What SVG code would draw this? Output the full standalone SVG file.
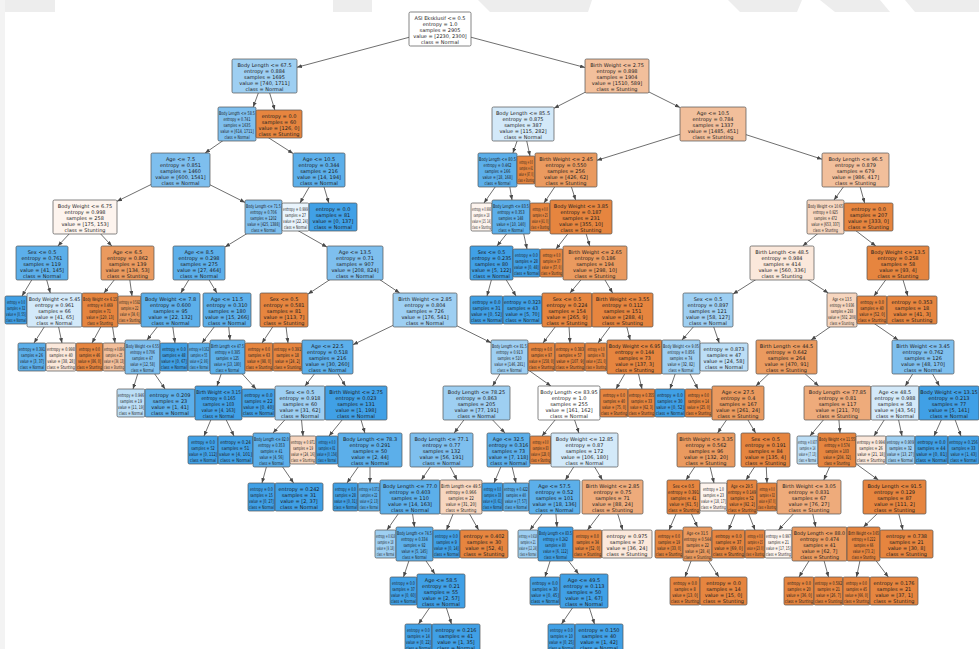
<svg xmlns="http://www.w3.org/2000/svg" width="979" height="649" viewBox="0 0 979 649">
<style>
text{font-family:"DejaVu Sans",sans-serif;font-size:5px;fill:#1e1e1e;text-anchor:middle}
.nd rect{stroke:#505050;stroke-width:0.7;rx:1.5px}
.w{fill:#ffffff}.b0{fill:#e9f4fc}.b1{fill:#d3e9f9}.b2{fill:#bcdef6}.b3{fill:#9ecff2}.b4{fill:#7ebfee}.b5{fill:#5cafea}.b6{fill:#40a0e6}
.o0{fill:#fdf4ee}.o1{fill:#fbe8db}.o2{fill:#f7d6bf}.o3{fill:#f2bf9b}.o4{fill:#eeab7b}.o5{fill:#ea9a5f}.o6{fill:#e6853f}
.e{stroke:#4a4a4a;stroke-width:0.8;fill:none;marker-end:url(#ah)}
.wm{fill:#ededed}
</style>
<defs>
<marker id="ah" markerWidth="5" markerHeight="4" refX="5" refY="2" orient="auto" markerUnits="userSpaceOnUse"><path d="M0,0L5,2L0,4z" fill="#4a4a4a"/></marker>
</defs>
<rect width="979" height="649" fill="#ffffff"/>
<g id="watermark">
<polygon points="0,0 5,0 5,649 0,649" fill="#f3f3f3"/>
<polygon class="wm" points="5,0 55,0 55,12 5,12"/>
<polygon class="wm" points="333,0 372,0 372,12 333,12"/>
<polygon class="wm" points="478,0 592,0 588,12 490,12"/>
<polygon class="wm" points="728,0 802,0 797,12 740,12"/>
<polygon class="wm" points="820,0 880,0 890,12 835,12"/>
<polygon class="wm" points="905,0 979,0 979,12 915,12"/>
</g>
<g id="connectors">
<path class="e" d="M440,29L297,67.3"/><path class="e" d="M440,29L585,67.5"/>
<path class="e" d="M264.5,76L253.2,107"/><path class="e" d="M264.5,76L274.8,110"/>
<path class="e" d="M617,76L554,108.2"/><path class="e" d="M617,76L680,107.5"/>
<path class="e" d="M247,124L205.1,153"/><path class="e" d="M247,124L293,153.4"/>
<path class="e" d="M523,124L512.9,153"/><path class="e" d="M523,124L530,156"/>
<path class="e" d="M713,124L597,160.3"/><path class="e" d="M713,124L822,159.2"/>
<path class="e" d="M180.5,170L117,201.3"/><path class="e" d="M180.5,170L245,202.4"/>
<path class="e" d="M319,170L300,203"/><path class="e" d="M319,170L328.8,203"/>
<path class="e" d="M507,170L484,203"/><path class="e" d="M507,170L512,200"/>
<path class="e" d="M566,170L544,203"/><path class="e" d="M566,170L575.6,200"/>
<path class="e" d="M855.5,170L834,200"/><path class="e" d="M855.5,170L864.6,203"/>
<path class="e" d="M85,217L57.9,246"/><path class="e" d="M85,217L111.8,246"/>
<path class="e" d="M274,217L225,247"/><path class="e" d="M274,217L327,247.1"/>
<path class="e" d="M520,217L497,246"/><path class="e" d="M520,217L527,249"/>
<path class="e" d="M581,217L556,249"/><path class="e" d="M581,217L589.8,246"/>
<path class="e" d="M838,217L802.7,246"/><path class="e" d="M838,217L875.8,246"/>
<path class="e" d="M42,263L22,296"/><path class="e" d="M42,263L50.3,293"/>
<path class="e" d="M127.5,263L104,293"/><path class="e" d="M127.5,263L132,296"/>
<path class="e" d="M199,263L180.8,293"/><path class="e" d="M199,263L216.9,293"/>
<path class="e" d="M355,263L308,294.1"/><path class="e" d="M355,263L399.7,293"/>
<path class="e" d="M496,263L487,296"/><path class="e" d="M496,263L516,296"/>
<path class="e" d="M595,263L570,293"/><path class="e" d="M595,263L612.6,293"/>
<path class="e" d="M782,263L733,294.1"/><path class="e" d="M782,263L828.3,293"/>
<path class="e" d="M898,263L874,296"/><path class="e" d="M898,263L907.8,296"/>
<path class="e" d="M55,310L34,343"/><path class="e" d="M55,310L62,343"/>
<path class="e" d="M110,310L92,343"/><path class="e" d="M110,310L115,343"/>
<path class="e" d="M170.5,310L147,340"/><path class="e" d="M170.5,310L175,343"/>
<path class="e" d="M227,310L202,343"/><path class="e" d="M227,310L230,340"/>
<path class="e" d="M284,310L262,343"/><path class="e" d="M284,310L288,343"/>
<path class="e" d="M425,310L353,344.7"/><path class="e" d="M425,310L491,342.7"/>
<path class="e" d="M568,310L543,343"/><path class="e" d="M568,310L570,343"/>
<path class="e" d="M622.5,310L598,343"/><path class="e" d="M622.5,310L630.2,340"/>
<path class="e" d="M708,310L682,340"/><path class="e" d="M708,310L719.2,343"/>
<path class="e" d="M854.5,310L811.1,340"/><path class="e" d="M854.5,310L898.2,340"/>
<path class="e" d="M143,357L133,389"/><path class="e" d="M143,357L165.1,389"/>
<path class="e" d="M227,357L217,386"/><path class="e" d="M227,357L256,389"/>
<path class="e" d="M327.5,357L305,386"/><path class="e" d="M327.5,357L345.5,386"/>
<path class="e" d="M510,357L492.6,386"/><path class="e" d="M510,357L550.9,386"/>
<path class="e" d="M634.5,357L616,389"/><path class="e" d="M634.5,357L642,389"/>
<path class="e" d="M681,357L670,389"/><path class="e" d="M681,357L698,389"/>
<path class="e" d="M786.5,357L755.9,386"/><path class="e" d="M786.5,357L818.7,386"/>
<path class="e" d="M923,357L905.3,386"/><path class="e" d="M923,357L939.4,386"/>
<path class="e" d="M218,403L204,436"/><path class="e" d="M218,403L234,436"/>
<path class="e" d="M300,403L273,433"/><path class="e" d="M300,403L303,436"/>
<path class="e" d="M356,403L329,436"/><path class="e" d="M356,403L364.9,433"/>
<path class="e" d="M476.5,403L454.2,433"/><path class="e" d="M476.5,403L505,433"/>
<path class="e" d="M569,403L542,436"/><path class="e" d="M569,403L578.9,433"/>
<path class="e" d="M738,403L717.6,433"/><path class="e" d="M738,403L755.6,433"/>
<path class="e" d="M837.5,403L810,436"/><path class="e" d="M837.5,403L840,433"/>
<path class="e" d="M895,403L874,436"/><path class="e" d="M895,403L902,436"/>
<path class="e" d="M949,403L934,436"/><path class="e" d="M949,403L961,436"/>
<path class="e" d="M271,450L262,483"/><path class="e" d="M271,450L293.6,483"/>
<path class="e" d="M370,450L347,483"/><path class="e" d="M370,450L370,483"/>
<path class="e" d="M441.5,450L421.4,480"/><path class="e" d="M441.5,450L457.1,480"/>
<path class="e" d="M508,450L494,483"/><path class="e" d="M508,450L516,483"/>
<path class="e" d="M584.5,450L565.4,480"/><path class="e" d="M584.5,450L602.4,480"/>
<path class="e" d="M706,450L686,480"/><path class="e" d="M706,450L714,483"/>
<path class="e" d="M765.5,450L746,480"/><path class="e" d="M765.5,450L767,483"/>
<path class="e" d="M837,450L823.8,480"/><path class="e" d="M837,450L878.4,480"/>
<path class="e" d="M410,497L387,530"/><path class="e" d="M410,497L414.5,527"/>
<path class="e" d="M460,497L446.5,530"/><path class="e" d="M460,497L478.6,530"/>
<path class="e" d="M554.5,497L530,530"/><path class="e" d="M554.5,497L557,527"/>
<path class="e" d="M612.5,497L587.5,530"/><path class="e" d="M612.5,497L622.7,530"/>
<path class="e" d="M683.5,497L669,530"/><path class="e" d="M683.5,497L697.5,527"/>
<path class="e" d="M742,497L728.5,530"/><path class="e" d="M742,497L755,530"/>
<path class="e" d="M809,497L778.5,530"/><path class="e" d="M809,497L815.7,527"/>
<path class="e" d="M894.5,497L863.5,527"/><path class="e" d="M894.5,497L902.9,530"/>
<path class="e" d="M414.5,544L403.5,577"/><path class="e" d="M414.5,544L434.9,574"/>
<path class="e" d="M555.5,544L545,577"/><path class="e" d="M555.5,544L578.6,574"/>
<path class="e" d="M697.5,544L685,577"/><path class="e" d="M697.5,544L718.9,577"/>
<path class="e" d="M819.5,544L799,577"/><path class="e" d="M819.5,544L828.5,577"/>
<path class="e" d="M863.5,544L856.5,577"/><path class="e" d="M863.5,544L888.3,577"/>
<path class="e" d="M441,591L418.5,624"/><path class="e" d="M441,591L451.5,624"/>
<path class="e" d="M584,591L561.5,624"/><path class="e" d="M584,591L594.5,624"/>
</g>
<g id="nodes" class="nd">
<g id="n0" transform="translate(440,12)"><rect class="w" x="-31" width="62" height="34"/><text><tspan x="0" y="7.7">ASI Eksklusif &lt;= 0.5</tspan><tspan x="0" dy="6.1">entropy = 1.0</tspan><tspan x="0" dy="6.1">samples = 2905</tspan><tspan x="0" dy="6.1">value = [2230, 2300]</tspan><tspan x="0" dy="6.1">class = Normal</tspan></text></g>
<g id="n1" transform="translate(264.5,59)"><rect class="b3" x="-32.5" width="65" height="34"/><text><tspan x="0" y="7.7">Body Length &lt;= 67.5</tspan><tspan x="0" dy="6.1">entropy = 0.884</tspan><tspan x="0" dy="6.1">samples = 1695</tspan><tspan x="0" dy="6.1">value = [740, 1711]</tspan><tspan x="0" dy="6.1">class = Normal</tspan></text></g>
<g id="n2" transform="translate(617,59)"><rect class="o3" x="-32" width="64" height="34"/><text><tspan x="0" y="7.7">Birth Weight &lt;= 2.75</tspan><tspan x="0" dy="6.1">entropy = 0.898</tspan><tspan x="0" dy="6.1">samples = 1904</tspan><tspan x="0" dy="6.1">value = [1510, 589]</tspan><tspan x="0" dy="6.1">class = Stunting</tspan></text></g>
<g id="n3" transform="translate(218,107)"><rect class="b4" width="38" height="34"/><text transform="translate(19,0) scale(0.664,1)"><tspan x="0" y="7.7">Body Length &lt;= 58.5</tspan><tspan x="0" dy="6.1">entropy = 0.741</tspan><tspan x="0" dy="6.1">samples = 1635</tspan><tspan x="0" dy="6.1">value = [614, 1711]</tspan><tspan x="0" dy="6.1">class = Normal</tspan></text></g>
<g id="n4" transform="translate(279,110)"><rect class="o6" x="-23" width="46" height="28"/><text><tspan x="0" y="7.7">entropy = 0.0</tspan><tspan x="0" dy="6.1">samples = 60</tspan><tspan x="0" dy="6.1">value = [126, 0]</tspan><tspan x="0" dy="6.1">class = Stunting</tspan></text></g>
<g id="n5" transform="translate(523,107)"><rect class="b1" x="-31" width="62" height="34"/><text><tspan x="0" y="7.7">Body Length &lt;= 85.5</tspan><tspan x="0" dy="6.1">entropy = 0.875</tspan><tspan x="0" dy="6.1">samples = 387</tspan><tspan x="0" dy="6.1">value = [115, 282]</tspan><tspan x="0" dy="6.1">class = Normal</tspan></text></g>
<g id="n6" transform="translate(713,107)"><rect class="o3" x="-33" width="66" height="34"/><text><tspan x="0" y="7.7">Age &lt;= 10.5</tspan><tspan x="0" dy="6.1">entropy = 0.784</tspan><tspan x="0" dy="6.1">samples = 1337</tspan><tspan x="0" dy="6.1">value = [1485, 451]</tspan><tspan x="0" dy="6.1">class = Stunting</tspan></text></g>
<g id="n7" transform="translate(180.5,153)"><rect class="b4" x="-29.5" width="59" height="34"/><text><tspan x="0" y="7.7">Age &lt;= 7.5</tspan><tspan x="0" dy="6.1">entropy = 0.851</tspan><tspan x="0" dy="6.1">samples = 1460</tspan><tspan x="0" dy="6.1">value = [600, 1541]</tspan><tspan x="0" dy="6.1">class = Normal</tspan></text></g>
<g id="n8" transform="translate(319,153)"><rect class="b5" x="-26" width="52" height="34"/><text><tspan x="0" y="7.7">Age &lt;= 10.5</tspan><tspan x="0" dy="6.1">entropy = 0.344</tspan><tspan x="0" dy="6.1">samples = 216</tspan><tspan x="0" dy="6.1">value = [14, 194]</tspan><tspan x="0" dy="6.1">class = Normal</tspan></text></g>
<g id="n9" transform="translate(478,153)"><rect class="b5" width="39" height="34"/><text transform="translate(19.5,0) scale(0.683,1)"><tspan x="0" y="7.7">Body Length &lt;= 80.5</tspan><tspan x="0" dy="6.1">entropy = 0.462</tspan><tspan x="0" dy="6.1">samples = 166</tspan><tspan x="0" dy="6.1">value = [18, 168]</tspan><tspan x="0" dy="6.1">class = Normal</tspan></text></g>
<g id="n10" transform="translate(517,156)"><rect class="o6" width="18" height="28"/><text transform="translate(9,0) scale(0.39,1)"><tspan x="0" y="7.7">entropy = 0.0</tspan><tspan x="0" dy="6.1">samples = 41</tspan><tspan x="0" dy="6.1">value = [97, 0]</tspan><tspan x="0" dy="6.1">class = Stunting</tspan></text></g>
<g id="n11" transform="translate(566,153)"><rect class="o5" x="-31" width="62" height="34"/><text><tspan x="0" y="7.7">Birth Weight &lt;= 2.45</tspan><tspan x="0" dy="6.1">entropy = 0.550</tspan><tspan x="0" dy="6.1">samples = 256</tspan><tspan x="0" dy="6.1">value = [426, 62]</tspan><tspan x="0" dy="6.1">class = Stunting</tspan></text></g>
<g id="n12" transform="translate(855.5,153)"><rect class="o3" x="-33.5" width="67" height="34"/><text><tspan x="0" y="7.7">Body Length &lt;= 96.5</tspan><tspan x="0" dy="6.1">entropy = 0.879</tspan><tspan x="0" dy="6.1">samples = 679</tspan><tspan x="0" dy="6.1">value = [986, 417]</tspan><tspan x="0" dy="6.1">class = Stunting</tspan></text></g>
<g id="n13" transform="translate(85,200)"><rect class="o0" x="-32" width="64" height="34"/><text><tspan x="0" y="7.7">Body Weight &lt;= 6.75</tspan><tspan x="0" dy="6.1">entropy = 0.998</tspan><tspan x="0" dy="6.1">samples = 258</tspan><tspan x="0" dy="6.1">value = [175, 153]</tspan><tspan x="0" dy="6.1">class = Stunting</tspan></text></g>
<g id="n14" transform="translate(245,200)"><rect class="b4" width="37" height="34"/><text transform="translate(18.5,0) scale(0.646,1)"><tspan x="0" y="7.7">Body Length &lt;= 71.5</tspan><tspan x="0" dy="6.1">entropy = 0.706</tspan><tspan x="0" dy="6.1">samples = 1202</tspan><tspan x="0" dy="6.1">value = [425, 1388]</tspan><tspan x="0" dy="6.1">class = Normal</tspan></text></g>
<g id="n15" transform="translate(282,203)"><rect class="b0" width="27" height="28"/><text transform="translate(13.5,0) scale(0.608,1)"><tspan x="0" y="7.7">entropy = 0.999</tspan><tspan x="0" dy="6.1">samples = 27</tspan><tspan x="0" dy="6.1">value = [22, 24]</tspan><tspan x="0" dy="6.1">class = Normal</tspan></text></g>
<g id="n16" transform="translate(333,203)"><rect class="b6" x="-24" width="48" height="28"/><text><tspan x="0" y="7.7">entropy = 0.0</tspan><tspan x="0" dy="6.1">samples = 81</tspan><tspan x="0" dy="6.1">value = [0, 137]</tspan><tspan x="0" dy="6.1">class = Normal</tspan></text></g>
<g id="n17" transform="translate(471,203)"><rect class="o0" width="21" height="28"/><text transform="translate(10.5,0) scale(0.462,1)"><tspan x="0" y="7.7">entropy = 0.998</tspan><tspan x="0" dy="6.1">samples = 18</tspan><tspan x="0" dy="6.1">value = [15, 14]</tspan><tspan x="0" dy="6.1">class = Stunting</tspan></text></g>
<g id="n18" transform="translate(492,200)"><rect class="b5" width="38" height="34"/><text transform="translate(19,0) scale(0.664,1)"><tspan x="0" y="7.7">Body Length &lt;= 83.5</tspan><tspan x="0" dy="6.1">entropy = 0.353</tspan><tspan x="0" dy="6.1">samples = 148</tspan><tspan x="0" dy="6.1">value = [10, 140]</tspan><tspan x="0" dy="6.1">class = Normal</tspan></text></g>
<g id="n19" transform="translate(530,203)"><rect class="o6" width="20" height="28"/><text transform="translate(10,0) scale(0.439,1)"><tspan x="0" y="7.7">entropy = 0.0</tspan><tspan x="0" dy="6.1">samples = 25</tspan><tspan x="0" dy="6.1">value = [41, 0]</tspan><tspan x="0" dy="6.1">class = Stunting</tspan></text></g>
<g id="n20" transform="translate(581,200)"><rect class="o6" x="-31" width="62" height="34"/><text><tspan x="0" y="7.7">Body Weight &lt;= 3.85</tspan><tspan x="0" dy="6.1">entropy = 0.187</tspan><tspan x="0" dy="6.1">samples = 231</tspan><tspan x="0" dy="6.1">value = [355, 10]</tspan><tspan x="0" dy="6.1">class = Stunting</tspan></text></g>
<g id="n21" transform="translate(807,200)"><rect class="o2" width="37" height="34"/><text transform="translate(18.5,0) scale(0.606,1)"><tspan x="0" y="7.7">Body Weight &lt;= 10.65</tspan><tspan x="0" dy="6.1">entropy = 0.925</tspan><tspan x="0" dy="6.1">samples = 472</tspan><tspan x="0" dy="6.1">value = [653, 337]</tspan><tspan x="0" dy="6.1">class = Stunting</tspan></text></g>
<g id="n22" transform="translate(868.5,203)"><rect class="o6" x="-24.5" width="49" height="28"/><text><tspan x="0" y="7.7">entropy = 0.0</tspan><tspan x="0" dy="6.1">samples = 207</tspan><tspan x="0" dy="6.1">value = [333, 0]</tspan><tspan x="0" dy="6.1">class = Stunting</tspan></text></g>
<g id="n23" transform="translate(42,246)"><rect class="b5" x="-26" width="52" height="34"/><text><tspan x="0" y="7.7">Sex &lt;= 0.5</tspan><tspan x="0" dy="6.1">entropy = 0.761</tspan><tspan x="0" dy="6.1">samples = 119</tspan><tspan x="0" dy="6.1">value = [41, 145]</tspan><tspan x="0" dy="6.1">class = Normal</tspan></text></g>
<g id="n24" transform="translate(127.5,246)"><rect class="o5" x="-26.5" width="53" height="34"/><text><tspan x="0" y="7.7">Age &lt;= 6.5</tspan><tspan x="0" dy="6.1">entropy = 0.862</tspan><tspan x="0" dy="6.1">samples = 139</tspan><tspan x="0" dy="6.1">value = [134, 53]</tspan><tspan x="0" dy="6.1">class = Stunting</tspan></text></g>
<g id="n25" transform="translate(199,246)"><rect class="b5" x="-26" width="52" height="34"/><text><tspan x="0" y="7.7">Age &lt;= 8.5</tspan><tspan x="0" dy="6.1">entropy = 0.298</tspan><tspan x="0" dy="6.1">samples = 275</tspan><tspan x="0" dy="6.1">value = [27, 464]</tspan><tspan x="0" dy="6.1">class = Normal</tspan></text></g>
<g id="n26" transform="translate(355,246)"><rect class="b4" x="-28" width="56" height="34"/><text><tspan x="0" y="7.7">Age &lt;= 13.5</tspan><tspan x="0" dy="6.1">entropy = 0.71</tspan><tspan x="0" dy="6.1">samples = 907</tspan><tspan x="0" dy="6.1">value = [208, 824]</tspan><tspan x="0" dy="6.1">class = Normal</tspan></text></g>
<g id="n27" transform="translate(470,246)"><rect class="b6" width="43" height="34"/><text transform="translate(21.5,0) scale(0.97,1)"><tspan x="0" y="7.7">Sex &lt;= 0.5</tspan><tspan x="0" dy="6.1">entropy = 0.235</tspan><tspan x="0" dy="6.1">samples = 80</tspan><tspan x="0" dy="6.1">value = [5, 122]</tspan><tspan x="0" dy="6.1">class = Normal</tspan></text></g>
<g id="n28" transform="translate(513,249)"><rect class="b6" width="27" height="28"/><text transform="translate(13.5,0) scale(0.658,1)"><tspan x="0" y="7.7">entropy = 0.0</tspan><tspan x="0" dy="6.1">samples = 28</tspan><tspan x="0" dy="6.1">value = [0, 48]</tspan><tspan x="0" dy="6.1">class = Normal</tspan></text></g>
<g id="n29" transform="translate(540,249)"><rect class="o6" width="23" height="28"/><text transform="translate(11.5,0) scale(0.512,1)"><tspan x="0" y="7.7">entropy = 0.0</tspan><tspan x="0" dy="6.1">samples = 37</tspan><tspan x="0" dy="6.1">value = [57, 0]</tspan><tspan x="0" dy="6.1">class = Stunting</tspan></text></g>
<g id="n30" transform="translate(595,246)"><rect class="o5" x="-32" width="64" height="34"/><text><tspan x="0" y="7.7">Birth Weight &lt;= 2.65</tspan><tspan x="0" dy="6.1">entropy = 0.186</tspan><tspan x="0" dy="6.1">samples = 194</tspan><tspan x="0" dy="6.1">value = [298, 10]</tspan><tspan x="0" dy="6.1">class = Stunting</tspan></text></g>
<g id="n31" transform="translate(782,246)"><rect class="o1" x="-32" width="64" height="34"/><text><tspan x="0" y="7.7">Birth Length &lt;= 48.5</tspan><tspan x="0" dy="6.1">entropy = 0.984</tspan><tspan x="0" dy="6.1">samples = 414</tspan><tspan x="0" dy="6.1">value = [560, 336]</tspan><tspan x="0" dy="6.1">class = Stunting</tspan></text></g>
<g id="n32" transform="translate(898,246)"><rect class="o6" x="-31" width="62" height="34"/><text><tspan x="0" y="7.7">Body Weight &lt;= 13.5</tspan><tspan x="0" dy="6.1">entropy = 0.258</tspan><tspan x="0" dy="6.1">samples = 58</tspan><tspan x="0" dy="6.1">value = [93, 4]</tspan><tspan x="0" dy="6.1">class = Stunting</tspan></text></g>
<g id="n33" transform="translate(5,296)"><rect class="b6" width="22" height="28"/><text transform="translate(11,0) scale(0.526,1)"><tspan x="0" y="7.7">entropy = 0.0</tspan><tspan x="0" dy="6.1">samples = 32</tspan><tspan x="0" dy="6.1">value = [0, 55]</tspan><tspan x="0" dy="6.1">class = Normal</tspan></text></g>
<g id="n34" transform="translate(27,293)"><rect class="b1" width="55" height="34"/><text transform="translate(27.5,0) scale(0.95,1)"><tspan x="0" y="7.7">Body Weight &lt;= 5.45</tspan><tspan x="0" dy="6.1">entropy = 0.961</tspan><tspan x="0" dy="6.1">samples = 66</tspan><tspan x="0" dy="6.1">value = [41, 65]</tspan><tspan x="0" dy="6.1">class = Normal</tspan></text></g>
<g id="n35" transform="translate(82,293)"><rect class="o6" width="36" height="34"/><text transform="translate(18,0) scale(0.623,1)"><tspan x="0" y="7.7">Body Weight &lt;= 6.15</tspan><tspan x="0" dy="6.1">entropy = 0.469</tspan><tspan x="0" dy="6.1">samples = 71</tspan><tspan x="0" dy="6.1">value = [120, 13]</tspan><tspan x="0" dy="6.1">class = Stunting</tspan></text></g>
<g id="n36" transform="translate(118,296)"><rect class="o5" width="23" height="28"/><text transform="translate(11.5,0) scale(0.512,1)"><tspan x="0" y="7.7">entropy = 0.592</tspan><tspan x="0" dy="6.1">samples = 22</tspan><tspan x="0" dy="6.1">value = [34, 6]</tspan><tspan x="0" dy="6.1">class = Stunting</tspan></text></g>
<g id="n37" transform="translate(170.5,293)"><rect class="b5" x="-29.5" width="59" height="34"/><text><tspan x="0" y="7.7">Body Weight &lt;= 7.8</tspan><tspan x="0" dy="6.1">entropy = 0.600</tspan><tspan x="0" dy="6.1">samples = 95</tspan><tspan x="0" dy="6.1">value = [22, 132]</tspan><tspan x="0" dy="6.1">class = Normal</tspan></text></g>
<g id="n38" transform="translate(227,293)"><rect class="b5" x="-24" width="48" height="34"/><text><tspan x="0" y="7.7">Age &lt;= 11.5</tspan><tspan x="0" dy="6.1">entropy = 0.310</tspan><tspan x="0" dy="6.1">samples = 180</tspan><tspan x="0" dy="6.1">value = [15, 266]</tspan><tspan x="0" dy="6.1">class = Normal</tspan></text></g>
<g id="n39" transform="translate(284,293)"><rect class="o6" x="-24" width="48" height="34"/><text><tspan x="0" y="7.7">Sex &lt;= 0.5</tspan><tspan x="0" dy="6.1">entropy = 0.581</tspan><tspan x="0" dy="6.1">samples = 81</tspan><tspan x="0" dy="6.1">value = [113, 7]</tspan><tspan x="0" dy="6.1">class = Stunting</tspan></text></g>
<g id="n40" transform="translate(425,293)"><rect class="b3" x="-32" width="64" height="34"/><text><tspan x="0" y="7.7">Birth Weight &lt;= 2.85</tspan><tspan x="0" dy="6.1">entropy = 0.804</tspan><tspan x="0" dy="6.1">samples = 726</tspan><tspan x="0" dy="6.1">value = [176, 541]</tspan><tspan x="0" dy="6.1">class = Normal</tspan></text></g>
<g id="n41" transform="translate(470,296)"><rect class="b6" width="33" height="28"/><text transform="translate(16.5,0) scale(0.816,1)"><tspan x="0" y="7.7">entropy = 0.0</tspan><tspan x="0" dy="6.1">samples = 31</tspan><tspan x="0" dy="6.1">value = [0, 52]</tspan><tspan x="0" dy="6.1">class = Normal</tspan></text></g>
<g id="n42" transform="translate(503,296)"><rect class="b6" width="39" height="28"/><text transform="translate(19.5,0) scale(0.9,1)"><tspan x="0" y="7.7">entropy = 0.323</tspan><tspan x="0" dy="6.1">samples = 43</tspan><tspan x="0" dy="6.1">value = [5, 70]</tspan><tspan x="0" dy="6.1">class = Normal</tspan></text></g>
<g id="n43" transform="translate(542,293)"><rect class="o6" width="50" height="34"/><text transform="translate(25,0)"><tspan x="0" y="7.7">Sex &lt;= 0.5</tspan><tspan x="0" dy="6.1">entropy = 0.224</tspan><tspan x="0" dy="6.1">samples = 154</tspan><tspan x="0" dy="6.1">value = [265, 9]</tspan><tspan x="0" dy="6.1">class = Stunting</tspan></text></g>
<g id="n44" transform="translate(622.5,293)"><rect class="o6" x="-30.5" width="61" height="34"/><text><tspan x="0" y="7.7">Birth Weight &lt;= 3.55</tspan><tspan x="0" dy="6.1">entropy = 0.112</tspan><tspan x="0" dy="6.1">samples = 151</tspan><tspan x="0" dy="6.1">value = [288, 4]</tspan><tspan x="0" dy="6.1">class = Stunting</tspan></text></g>
<g id="n45" transform="translate(708,293)"><rect class="b3" x="-25" width="50" height="34"/><text><tspan x="0" y="7.7">Sex &lt;= 0.5</tspan><tspan x="0" dy="6.1">entropy = 0.897</tspan><tspan x="0" dy="6.1">samples = 121</tspan><tspan x="0" dy="6.1">value = [58, 127]</tspan><tspan x="0" dy="6.1">class = Normal</tspan></text></g>
<g id="n46" transform="translate(827,293)"><rect class="o2" width="30" height="34"/><text transform="translate(15,0) scale(0.593,1)"><tspan x="0" y="7.7">Age &lt;= 13.5</tspan><tspan x="0" dy="6.1">entropy = 0.936</tspan><tspan x="0" dy="6.1">samples = 293</tspan><tspan x="0" dy="6.1">value = [502, 209]</tspan><tspan x="0" dy="6.1">class = Stunting</tspan></text></g>
<g id="n47" transform="translate(857,296)"><rect class="o6" width="30" height="28"/><text transform="translate(15,0) scale(0.683,1)"><tspan x="0" y="7.7">entropy = 0.0</tspan><tspan x="0" dy="6.1">samples = 40</tspan><tspan x="0" dy="6.1">value = [52, 0]</tspan><tspan x="0" dy="6.1">class = Stunting</tspan></text></g>
<g id="n48" transform="translate(912,296)"><rect class="o6" x="-25" width="50" height="28"/><text><tspan x="0" y="7.7">entropy = 0.353</tspan><tspan x="0" dy="6.1">samples = 18</tspan><tspan x="0" dy="6.1">value = [41, 3]</tspan><tspan x="0" dy="6.1">class = Stunting</tspan></text></g>
<g id="n49" transform="translate(18,343)"><rect class="b5" width="28" height="28"/><text transform="translate(14,0) scale(0.633,1)"><tspan x="0" y="7.7">entropy = 0.391</tspan><tspan x="0" dy="6.1">samples = 26</tspan><tspan x="0" dy="6.1">value = [3, 37]</tspan><tspan x="0" dy="6.1">class = Normal</tspan></text></g>
<g id="n50" transform="translate(46,343)"><rect class="o1" width="30" height="28"/><text transform="translate(15,0) scale(0.681,1)"><tspan x="0" y="7.7">entropy = 0.998</tspan><tspan x="0" dy="6.1">samples = 40</tspan><tspan x="0" dy="6.1">value = [38, 28]</tspan><tspan x="0" dy="6.1">class = Stunting</tspan></text></g>
<g id="n51" transform="translate(76,343)"><rect class="o6" width="27" height="28"/><text transform="translate(13.5,0) scale(0.61,1)"><tspan x="0" y="7.7">entropy = 0.0</tspan><tspan x="0" dy="6.1">samples = 46</tspan><tspan x="0" dy="6.1">value = [86, 0]</tspan><tspan x="0" dy="6.1">class = Stunting</tspan></text></g>
<g id="n52" transform="translate(103,343)"><rect class="o3" width="22" height="28"/><text transform="translate(11,0) scale(0.487,1)"><tspan x="0" y="7.7">entropy = 0.896</tspan><tspan x="0" dy="6.1">samples = 25</tspan><tspan x="0" dy="6.1">value = [34, 13]</tspan><tspan x="0" dy="6.1">class = Stunting</tspan></text></g>
<g id="n53" transform="translate(125,340)"><rect class="b4" width="35" height="34"/><text transform="translate(17.5,0) scale(0.604,1)"><tspan x="0" y="7.7">Body Weight &lt;= 6.55</tspan><tspan x="0" dy="6.1">entropy = 0.706</tspan><tspan x="0" dy="6.1">samples = 47</tspan><tspan x="0" dy="6.1">value = [12, 58]</tspan><tspan x="0" dy="6.1">class = Normal</tspan></text></g>
<g id="n54" transform="translate(160,343)"><rect class="b6" width="28" height="28"/><text transform="translate(14,0) scale(0.684,1)"><tspan x="0" y="7.7">entropy = 0.0</tspan><tspan x="0" dy="6.1">samples = 48</tspan><tspan x="0" dy="6.1">value = [0, 67]</tspan><tspan x="0" dy="6.1">class = Normal</tspan></text></g>
<g id="n55" transform="translate(188,343)"><rect class="b5" width="22" height="28"/><text transform="translate(11,0) scale(0.487,1)"><tspan x="0" y="7.7">entropy = 0.162</tspan><tspan x="0" dy="6.1">samples = 55</tspan><tspan x="0" dy="6.1">value = [2, 86]</tspan><tspan x="0" dy="6.1">class = Normal</tspan></text></g>
<g id="n56" transform="translate(210,340)"><rect class="b5" width="35" height="34"/><text transform="translate(17.5,0) scale(0.616,1)"><tspan x="0" y="7.7">Birth Length &lt;= 47.5</tspan><tspan x="0" dy="6.1">entropy = 0.385</tspan><tspan x="0" dy="6.1">samples = 125</tspan><tspan x="0" dy="6.1">value = [13, 180]</tspan><tspan x="0" dy="6.1">class = Normal</tspan></text></g>
<g id="n57" transform="translate(245,343)"><rect class="o6" width="28" height="28"/><text transform="translate(14,0) scale(0.634,1)"><tspan x="0" y="7.7">entropy = 0.0</tspan><tspan x="0" dy="6.1">samples = 63</tspan><tspan x="0" dy="6.1">value = [98, 0]</tspan><tspan x="0" dy="6.1">class = Stunting</tspan></text></g>
<g id="n58" transform="translate(273,343)"><rect class="o6" width="29" height="28"/><text transform="translate(14.5,0) scale(0.657,1)"><tspan x="0" y="7.7">entropy = 0.391</tspan><tspan x="0" dy="6.1">samples = 18</tspan><tspan x="0" dy="6.1">value = [24, 2]</tspan><tspan x="0" dy="6.1">class = Stunting</tspan></text></g>
<g id="n59" transform="translate(327.5,340)"><rect class="b5" x="-25.5" width="51" height="34"/><text><tspan x="0" y="7.7">Age &lt;= 22.5</tspan><tspan x="0" dy="6.1">entropy = 0.518</tspan><tspan x="0" dy="6.1">samples = 216</tspan><tspan x="0" dy="6.1">value = [30, 260]</tspan><tspan x="0" dy="6.1">class = Normal</tspan></text></g>
<g id="n60" transform="translate(491,340)"><rect class="b3" width="37" height="34"/><text transform="translate(18.5,0) scale(0.646,1)"><tspan x="0" y="7.7">Body Length &lt;= 81.5</tspan><tspan x="0" dy="6.1">entropy = 0.913</tspan><tspan x="0" dy="6.1">samples = 510</tspan><tspan x="0" dy="6.1">value = [146, 281]</tspan><tspan x="0" dy="6.1">class = Normal</tspan></text></g>
<g id="n61" transform="translate(528,343)"><rect class="o6" width="27" height="28"/><text transform="translate(13.5,0) scale(0.61,1)"><tspan x="0" y="7.7">entropy = 0.0</tspan><tspan x="0" dy="6.1">samples = 97</tspan><tspan x="0" dy="6.1">value = [158, 0]</tspan><tspan x="0" dy="6.1">class = Stunting</tspan></text></g>
<g id="n62" transform="translate(555,343)"><rect class="o6" width="30" height="28"/><text transform="translate(15,0) scale(0.681,1)"><tspan x="0" y="7.7">entropy = 0.383</tspan><tspan x="0" dy="6.1">samples = 57</tspan><tspan x="0" dy="6.1">value = [107, 9]</tspan><tspan x="0" dy="6.1">class = Stunting</tspan></text></g>
<g id="n63" transform="translate(585,343)"><rect class="o6" width="22" height="28"/><text transform="translate(11,0) scale(0.488,1)"><tspan x="0" y="7.7">entropy = 0.0</tspan><tspan x="0" dy="6.1">samples = 78</tspan><tspan x="0" dy="6.1">value = [151, 0]</tspan><tspan x="0" dy="6.1">class = Stunting</tspan></text></g>
<g id="n64" transform="translate(634.5,340)"><rect class="o6" x="-27.5" width="55" height="34"/><text transform="scale(0.95,1)"><tspan x="0" y="7.7">Body Weight &lt;= 6.95</tspan><tspan x="0" dy="6.1">entropy = 0.144</tspan><tspan x="0" dy="6.1">samples = 73</tspan><tspan x="0" dy="6.1">value = [137, 3]</tspan><tspan x="0" dy="6.1">class = Stunting</tspan></text></g>
<g id="n65" transform="translate(662,340)"><rect class="b3" width="38" height="34"/><text transform="translate(19,0) scale(0.659,1)"><tspan x="0" y="7.7">Body Weight &lt;= 9.05</tspan><tspan x="0" dy="6.1">entropy = 0.856</tspan><tspan x="0" dy="6.1">samples = 74</tspan><tspan x="0" dy="6.1">value = [32, 82]</tspan><tspan x="0" dy="6.1">class = Normal</tspan></text></g>
<g id="n66" transform="translate(724,343)"><rect class="b2" x="-24" width="48" height="28"/><text><tspan x="0" y="7.7">entropy = 0.873</tspan><tspan x="0" dy="6.1">samples = 47</tspan><tspan x="0" dy="6.1">value = [24, 58]</tspan><tspan x="0" dy="6.1">class = Normal</tspan></text></g>
<g id="n67" transform="translate(786.5,340)"><rect class="o5" x="-30.5" width="61" height="34"/><text><tspan x="0" y="7.7">Birth Length &lt;= 44.5</tspan><tspan x="0" dy="6.1">entropy = 0.642</tspan><tspan x="0" dy="6.1">samples = 264</tspan><tspan x="0" dy="6.1">value = [470, 91]</tspan><tspan x="0" dy="6.1">class = Stunting</tspan></text></g>
<g id="n68" transform="translate(923,340)"><rect class="b4" x="-31" width="62" height="34"/><text><tspan x="0" y="7.7">Birth Weight &lt;= 3.45</tspan><tspan x="0" dy="6.1">entropy = 0.762</tspan><tspan x="0" dy="6.1">samples = 126</tspan><tspan x="0" dy="6.1">value = [48, 170]</tspan><tspan x="0" dy="6.1">class = Normal</tspan></text></g>
<g id="n69" transform="translate(117,389)"><rect class="b2" width="28" height="28"/><text transform="translate(14,0) scale(0.633,1)"><tspan x="0" y="7.7">entropy = 0.946</tspan><tspan x="0" dy="6.1">samples = 19</tspan><tspan x="0" dy="6.1">value = [11, 19]</tspan><tspan x="0" dy="6.1">class = Normal</tspan></text></g>
<g id="n70" transform="translate(170,389)"><rect class="b5" x="-25" width="50" height="28"/><text><tspan x="0" y="7.7">entropy = 0.209</tspan><tspan x="0" dy="6.1">samples = 23</tspan><tspan x="0" dy="6.1">value = [1, 41]</tspan><tspan x="0" dy="6.1">class = Normal</tspan></text></g>
<g id="n71" transform="translate(195,386)"><rect class="b6" width="47" height="34"/><text transform="translate(23.5,0) scale(0.833,1)"><tspan x="0" y="7.7">Birth Weight &lt;= 3.15</tspan><tspan x="0" dy="6.1">entropy = 0.165</tspan><tspan x="0" dy="6.1">samples = 103</tspan><tspan x="0" dy="6.1">value = [4, 163]</tspan><tspan x="0" dy="6.1">class = Normal</tspan></text></g>
<g id="n72" transform="translate(242,389)"><rect class="b6" width="33" height="28"/><text transform="translate(16.5,0) scale(0.816,1)"><tspan x="0" y="7.7">entropy = 0.0</tspan><tspan x="0" dy="6.1">samples = 22</tspan><tspan x="0" dy="6.1">value = [0, 40]</tspan><tspan x="0" dy="6.1">class = Normal</tspan></text></g>
<g id="n73" transform="translate(275,386)"><rect class="b3" width="50" height="34"/><text transform="translate(25,0)"><tspan x="0" y="7.7">Sex &lt;= 0.5</tspan><tspan x="0" dy="6.1">entropy = 0.918</tspan><tspan x="0" dy="6.1">samples = 60</tspan><tspan x="0" dy="6.1">value = [31, 62]</tspan><tspan x="0" dy="6.1">class = Normal</tspan></text></g>
<g id="n74" transform="translate(356,386)"><rect class="b6" x="-31" width="62" height="34"/><text><tspan x="0" y="7.7">Birth Weight &lt;= 2.75</tspan><tspan x="0" dy="6.1">entropy = 0.023</tspan><tspan x="0" dy="6.1">samples = 131</tspan><tspan x="0" dy="6.1">value = [1, 198]</tspan><tspan x="0" dy="6.1">class = Normal</tspan></text></g>
<g id="n75" transform="translate(476.5,386)"><rect class="b3" x="-33.5" width="67" height="34"/><text><tspan x="0" y="7.7">Body Length &lt;= 78.25</tspan><tspan x="0" dy="6.1">entropy = 0.863</tspan><tspan x="0" dy="6.1">samples = 205</tspan><tspan x="0" dy="6.1">value = [77, 191]</tspan><tspan x="0" dy="6.1">class = Normal</tspan></text></g>
<g id="n76" transform="translate(569,386)"><rect class="w" x="-31" width="62" height="34"/><text><tspan x="0" y="7.7">Body Length &lt;= 83.95</tspan><tspan x="0" dy="6.1">entropy = 1.0</tspan><tspan x="0" dy="6.1">samples = 255</tspan><tspan x="0" dy="6.1">value = [161, 162]</tspan><tspan x="0" dy="6.1">class = Normal</tspan></text></g>
<g id="n77" transform="translate(600,389)"><rect class="o6" width="28" height="28"/><text transform="translate(14,0) scale(0.634,1)"><tspan x="0" y="7.7">entropy = 0.0</tspan><tspan x="0" dy="6.1">samples = 40</tspan><tspan x="0" dy="6.1">value = [75, 0]</tspan><tspan x="0" dy="6.1">class = Stunting</tspan></text></g>
<g id="n78" transform="translate(628,389)"><rect class="o6" width="27" height="28"/><text transform="translate(13.5,0) scale(0.608,1)"><tspan x="0" y="7.7">entropy = 0.355</tspan><tspan x="0" dy="6.1">samples = 33</tspan><tspan x="0" dy="6.1">value = [62, 3]</tspan><tspan x="0" dy="6.1">class = Stunting</tspan></text></g>
<g id="n79" transform="translate(655,389)"><rect class="b6" width="30" height="28"/><text transform="translate(15,0) scale(0.737,1)"><tspan x="0" y="7.7">entropy = 0.0</tspan><tspan x="0" dy="6.1">samples = 30</tspan><tspan x="0" dy="6.1">value = [0, 52]</tspan><tspan x="0" dy="6.1">class = Normal</tspan></text></g>
<g id="n80" transform="translate(685,389)"><rect class="o6" width="27" height="28"/><text transform="translate(13.5,0) scale(0.61,1)"><tspan x="0" y="7.7">entropy = 0.0</tspan><tspan x="0" dy="6.1">samples = 14</tspan><tspan x="0" dy="6.1">value = [25, 0]</tspan><tspan x="0" dy="6.1">class = Stunting</tspan></text></g>
<g id="n81" transform="translate(738,386)"><rect class="o5" x="-26" width="52" height="34"/><text><tspan x="0" y="7.7">Age &lt;= 27.5</tspan><tspan x="0" dy="6.1">entropy = 0.4</tspan><tspan x="0" dy="6.1">samples = 167</tspan><tspan x="0" dy="6.1">value = [261, 24]</tspan><tspan x="0" dy="6.1">class = Stunting</tspan></text></g>
<g id="n82" transform="translate(837.5,386)"><rect class="o4" x="-33.5" width="67" height="34"/><text><tspan x="0" y="7.7">Body Length &lt;= 77.85</tspan><tspan x="0" dy="6.1">entropy = 0.81</tspan><tspan x="0" dy="6.1">samples = 117</tspan><tspan x="0" dy="6.1">value = [211, 70]</tspan><tspan x="0" dy="6.1">class = Stunting</tspan></text></g>
<g id="n83" transform="translate(895,386)"><rect class="b1" x="-24" width="48" height="34"/><text><tspan x="0" y="7.7">Age &lt;= 48.5</tspan><tspan x="0" dy="6.1">entropy = 0.988</tspan><tspan x="0" dy="6.1">samples = 58</tspan><tspan x="0" dy="6.1">value = [43, 56]</tspan><tspan x="0" dy="6.1">class = Normal</tspan></text></g>
<g id="n84" transform="translate(949,386)"><rect class="b6" x="-30" width="60" height="34"/><text><tspan x="0" y="7.7">Body Weight &lt;= 13.15</tspan><tspan x="0" dy="6.1">entropy = 0.213</tspan><tspan x="0" dy="6.1">samples = 77</tspan><tspan x="0" dy="6.1">value = [5, 141]</tspan><tspan x="0" dy="6.1">class = Normal</tspan></text></g>
<g id="n85" transform="translate(188,436)"><rect class="b6" width="30" height="28"/><text transform="translate(15,0) scale(0.686,1)"><tspan x="0" y="7.7">entropy = 0.0</tspan><tspan x="0" dy="6.1">samples = 52</tspan><tspan x="0" dy="6.1">value = [0, 112]</tspan><tspan x="0" dy="6.1">class = Normal</tspan></text></g>
<g id="n86" transform="translate(218,436)"><rect class="b6" width="35" height="28"/><text transform="translate(17.5,0) scale(0.809,1)"><tspan x="0" y="7.7">entropy = 0.24</tspan><tspan x="0" dy="6.1">samples = 51</tspan><tspan x="0" dy="6.1">value = [4, 101]</tspan><tspan x="0" dy="6.1">class = Normal</tspan></text></g>
<g id="n87" transform="translate(253,433)"><rect class="b5" width="37" height="34"/><text transform="translate(18.5,0) scale(0.646,1)"><tspan x="0" y="7.7">Body Length &lt;= 82.0</tspan><tspan x="0" dy="6.1">entropy = 0.353</tspan><tspan x="0" dy="6.1">samples = 41</tspan><tspan x="0" dy="6.1">value = [4, 56]</tspan><tspan x="0" dy="6.1">class = Normal</tspan></text></g>
<g id="n88" transform="translate(290,436)"><rect class="o2" width="26" height="28"/><text transform="translate(13,0) scale(0.584,1)"><tspan x="0" y="7.7">entropy = 0.971</tspan><tspan x="0" dy="6.1">samples = 19</tspan><tspan x="0" dy="6.1">value = [24, 16]</tspan><tspan x="0" dy="6.1">class = Stunting</tspan></text></g>
<g id="n89" transform="translate(316,436)"><rect class="b6" width="22" height="28"/><text transform="translate(11,0) scale(0.49,1)"><tspan x="0" y="7.7">entropy = 0.0</tspan><tspan x="0" dy="6.1">samples = 81</tspan><tspan x="0" dy="6.1">value = [0, 154]</tspan><tspan x="0" dy="6.1">class = Normal</tspan></text></g>
<g id="n90" transform="translate(370,433)"><rect class="b5" x="-32" width="64" height="34"/><text><tspan x="0" y="7.7">Body Length &lt;= 78.3</tspan><tspan x="0" dy="6.1">entropy = 0.291</tspan><tspan x="0" dy="6.1">samples = 50</tspan><tspan x="0" dy="6.1">value = [2, 44]</tspan><tspan x="0" dy="6.1">class = Normal</tspan></text></g>
<g id="n91" transform="translate(441.5,433)"><rect class="b4" x="-31.5" width="63" height="34"/><text><tspan x="0" y="7.7">Body Length &lt;= 77.1</tspan><tspan x="0" dy="6.1">entropy = 0.77</tspan><tspan x="0" dy="6.1">samples = 132</tspan><tspan x="0" dy="6.1">value = [56, 191]</tspan><tspan x="0" dy="6.1">class = Normal</tspan></text></g>
<g id="n92" transform="translate(487,433)"><rect class="b5" width="43" height="34"/><text transform="translate(21.5,0) scale(0.97,1)"><tspan x="0" y="7.7">Age &lt;= 32.5</tspan><tspan x="0" dy="6.1">entropy = 0.316</tspan><tspan x="0" dy="6.1">samples = 73</tspan><tspan x="0" dy="6.1">value = [7, 118]</tspan><tspan x="0" dy="6.1">class = Normal</tspan></text></g>
<g id="n93" transform="translate(530,436)"><rect class="o6" width="21" height="28"/><text transform="translate(10.5,0) scale(0.463,1)"><tspan x="0" y="7.7">entropy = 0.0</tspan><tspan x="0" dy="6.1">samples = 83</tspan><tspan x="0" dy="6.1">value = [128, 0]</tspan><tspan x="0" dy="6.1">class = Stunting</tspan></text></g>
<g id="n94" transform="translate(584.5,433)"><rect class="b1" x="-33.5" width="67" height="34"/><text><tspan x="0" y="7.7">Body Weight &lt;= 12.85</tspan><tspan x="0" dy="6.1">entropy = 0.87</tspan><tspan x="0" dy="6.1">samples = 172</tspan><tspan x="0" dy="6.1">value = [106, 180]</tspan><tspan x="0" dy="6.1">class = Normal</tspan></text></g>
<g id="n95" transform="translate(706,433)"><rect class="o5" x="-29" width="58" height="34"/><text><tspan x="0" y="7.7">Birth Weight &lt;= 3.35</tspan><tspan x="0" dy="6.1">entropy = 0.562</tspan><tspan x="0" dy="6.1">samples = 96</tspan><tspan x="0" dy="6.1">value = [132, 20]</tspan><tspan x="0" dy="6.1">class = Stunting</tspan></text></g>
<g id="n96" transform="translate(765.5,433)"><rect class="o6" x="-24.5" width="49" height="34"/><text><tspan x="0" y="7.7">Sex &lt;= 0.5</tspan><tspan x="0" dy="6.1">entropy = 0.191</tspan><tspan x="0" dy="6.1">samples = 84</tspan><tspan x="0" dy="6.1">value = [135, 4]</tspan><tspan x="0" dy="6.1">class = Stunting</tspan></text></g>
<g id="n97" transform="translate(797,436)"><rect class="b2" width="21" height="28"/><text transform="translate(10.5,0) scale(0.462,1)"><tspan x="0" y="7.7">entropy = 0.937</tspan><tspan x="0" dy="6.1">samples = 14</tspan><tspan x="0" dy="6.1">value = [7, 13]</tspan><tspan x="0" dy="6.1">class = Normal</tspan></text></g>
<g id="n98" transform="translate(818,433)"><rect class="o6" width="38" height="34"/><text transform="translate(19,0) scale(0.623,1)"><tspan x="0" y="7.7">Body Weight &lt;= 11.55</tspan><tspan x="0" dy="6.1">entropy = 0.574</tspan><tspan x="0" dy="6.1">samples = 103</tspan><tspan x="0" dy="6.1">value = [204, 32]</tspan><tspan x="0" dy="6.1">class = Stunting</tspan></text></g>
<g id="n99" transform="translate(856,436)"><rect class="o1" width="30" height="28"/><text transform="translate(15,0) scale(0.681,1)"><tspan x="0" y="7.7">entropy = 0.994</tspan><tspan x="0" dy="6.1">samples = 26</tspan><tspan x="0" dy="6.1">value = [21, 18]</tspan><tspan x="0" dy="6.1">class = Stunting</tspan></text></g>
<g id="n100" transform="translate(886,436)"><rect class="b3" width="29" height="28"/><text transform="translate(14.5,0) scale(0.657,1)"><tspan x="0" y="7.7">entropy = 0.909</tspan><tspan x="0" dy="6.1">samples = 32</tspan><tspan x="0" dy="6.1">value = [13, 27]</tspan><tspan x="0" dy="6.1">class = Normal</tspan></text></g>
<g id="n101" transform="translate(915,436)"><rect class="b6" width="33" height="28"/><text transform="translate(16.5,0) scale(0.816,1)"><tspan x="0" y="7.7">entropy = 0.0</tspan><tspan x="0" dy="6.1">samples = 44</tspan><tspan x="0" dy="6.1">value = [0, 81]</tspan><tspan x="0" dy="6.1">class = Normal</tspan></text></g>
<g id="n102" transform="translate(948,436)"><rect class="b6" width="31" height="28"/><text transform="translate(15.5,0) scale(0.7,1)"><tspan x="0" y="7.7">entropy = 0.156</tspan><tspan x="0" dy="6.1">samples = 33</tspan><tspan x="0" dy="6.1">value = [1, 43]</tspan><tspan x="0" dy="6.1">class = Normal</tspan></text></g>
<g id="n103" transform="translate(248,483)"><rect class="b6" width="27" height="28"/><text transform="translate(13.5,0) scale(0.658,1)"><tspan x="0" y="7.7">entropy = 0.0</tspan><tspan x="0" dy="6.1">samples = 15</tspan><tspan x="0" dy="6.1">value = [0, 27]</tspan><tspan x="0" dy="6.1">class = Normal</tspan></text></g>
<g id="n104" transform="translate(299,483)"><rect class="b6" x="-24" width="48" height="28"/><text><tspan x="0" y="7.7">entropy = 0.242</tspan><tspan x="0" dy="6.1">samples = 31</tspan><tspan x="0" dy="6.1">value = [2, 37]</tspan><tspan x="0" dy="6.1">class = Normal</tspan></text></g>
<g id="n105" transform="translate(333,483)"><rect class="b6" width="25" height="28"/><text transform="translate(12.5,0) scale(0.605,1)"><tspan x="0" y="7.7">entropy = 0.0</tspan><tspan x="0" dy="6.1">samples = 28</tspan><tspan x="0" dy="6.1">value = [0, 31]</tspan><tspan x="0" dy="6.1">class = Normal</tspan></text></g>
<g id="n106" transform="translate(358,483)"><rect class="b5" width="22" height="28"/><text transform="translate(11,0) scale(0.487,1)"><tspan x="0" y="7.7">entropy = 0.371</tspan><tspan x="0" dy="6.1">samples = 22</tspan><tspan x="0" dy="6.1">value = [2, 13]</tspan><tspan x="0" dy="6.1">class = Normal</tspan></text></g>
<g id="n107" transform="translate(410,480)"><rect class="b5" x="-30" width="60" height="34"/><text><tspan x="0" y="7.7">Body Length &lt;= 77.0</tspan><tspan x="0" dy="6.1">entropy = 0.403</tspan><tspan x="0" dy="6.1">samples = 110</tspan><tspan x="0" dy="6.1">value = [14, 163]</tspan><tspan x="0" dy="6.1">class = Normal</tspan></text></g>
<g id="n108" transform="translate(440,480)"><rect class="o2" width="42" height="34"/><text transform="translate(21,0) scale(0.747,1)"><tspan x="0" y="7.7">Birth Length &lt;= 49.5</tspan><tspan x="0" dy="6.1">entropy = 0.966</tspan><tspan x="0" dy="6.1">samples = 22</tspan><tspan x="0" dy="6.1">value = [31, 20]</tspan><tspan x="0" dy="6.1">class = Stunting</tspan></text></g>
<g id="n109" transform="translate(482,483)"><rect class="b6" width="21" height="28"/><text transform="translate(10.5,0) scale(0.5,1)"><tspan x="0" y="7.7">entropy = 0.0</tspan><tspan x="0" dy="6.1">samples = 33</tspan><tspan x="0" dy="6.1">value = [0, 61]</tspan><tspan x="0" dy="6.1">class = Normal</tspan></text></g>
<g id="n110" transform="translate(503,483)"><rect class="b5" width="26" height="28"/><text transform="translate(13,0) scale(0.584,1)"><tspan x="0" y="7.7">entropy = 0.422</tspan><tspan x="0" dy="6.1">samples = 40</tspan><tspan x="0" dy="6.1">value = [7, 57]</tspan><tspan x="0" dy="6.1">class = Normal</tspan></text></g>
<g id="n111" transform="translate(554.5,480)"><rect class="b5" x="-25.5" width="51" height="34"/><text><tspan x="0" y="7.7">Age &lt;= 57.5</tspan><tspan x="0" dy="6.1">entropy = 0.52</tspan><tspan x="0" dy="6.1">samples = 101</tspan><tspan x="0" dy="6.1">value = [18, 136]</tspan><tspan x="0" dy="6.1">class = Normal</tspan></text></g>
<g id="n112" transform="translate(612.5,480)"><rect class="o4" x="-30.5" width="61" height="34"/><text><tspan x="0" y="7.7">Birth Weight &lt;= 2.85</tspan><tspan x="0" dy="6.1">entropy = 0.75</tspan><tspan x="0" dy="6.1">samples = 71</tspan><tspan x="0" dy="6.1">value = [88, 24]</tspan><tspan x="0" dy="6.1">class = Stunting</tspan></text></g>
<g id="n113" transform="translate(667,480)"><rect class="o6" width="33" height="34"/><text transform="translate(16.5,0) scale(0.754,1)"><tspan x="0" y="7.7">Sex &lt;= 0.5</tspan><tspan x="0" dy="6.1">entropy = 0.391</tspan><tspan x="0" dy="6.1">samples = 41</tspan><tspan x="0" dy="6.1">value = [61, 5]</tspan><tspan x="0" dy="6.1">class = Stunting</tspan></text></g>
<g id="n114" transform="translate(700,483)"><rect class="o0" width="27" height="28"/><text transform="translate(13.5,0) scale(0.61,1)"><tspan x="0" y="7.7">entropy = 1.0</tspan><tspan x="0" dy="6.1">samples = 23</tspan><tspan x="0" dy="6.1">value = [18, 17]</tspan><tspan x="0" dy="6.1">class = Stunting</tspan></text></g>
<g id="n115" transform="translate(727,480)"><rect class="o6" width="30" height="34"/><text transform="translate(15,0) scale(0.681,1)"><tspan x="0" y="7.7">Age &lt;= 29.5</tspan><tspan x="0" dy="6.1">entropy = 0.149</tspan><tspan x="0" dy="6.1">samples = 52</tspan><tspan x="0" dy="6.1">value = [92, 2]</tspan><tspan x="0" dy="6.1">class = Stunting</tspan></text></g>
<g id="n116" transform="translate(757,483)"><rect class="o6" width="20" height="28"/><text transform="translate(10,0) scale(0.439,1)"><tspan x="0" y="7.7">entropy = 0.0</tspan><tspan x="0" dy="6.1">samples = 32</tspan><tspan x="0" dy="6.1">value = [47, 0]</tspan><tspan x="0" dy="6.1">class = Stunting</tspan></text></g>
<g id="n117" transform="translate(809,480)"><rect class="o4" x="-32" width="64" height="34"/><text><tspan x="0" y="7.7">Birth Weight &lt;= 3.05</tspan><tspan x="0" dy="6.1">entropy = 0.831</tspan><tspan x="0" dy="6.1">samples = 67</tspan><tspan x="0" dy="6.1">value = [76, 27]</tspan><tspan x="0" dy="6.1">class = Stunting</tspan></text></g>
<g id="n118" transform="translate(894.5,480)"><rect class="o6" x="-31.5" width="63" height="34"/><text><tspan x="0" y="7.7">Body Length &lt;= 91.5</tspan><tspan x="0" dy="6.1">entropy = 0.129</tspan><tspan x="0" dy="6.1">samples = 87</tspan><tspan x="0" dy="6.1">value = [111, 2]</tspan><tspan x="0" dy="6.1">class = Stunting</tspan></text></g>
<g id="n119" transform="translate(375,530)"><rect class="b3" width="21" height="28"/><text transform="translate(10.5,0) scale(0.462,1)"><tspan x="0" y="7.7">entropy = 0.918</tspan><tspan x="0" dy="6.1">samples = 18</tspan><tspan x="0" dy="6.1">value = [9, 18]</tspan><tspan x="0" dy="6.1">class = Normal</tspan></text></g>
<g id="n120" transform="translate(396,527)"><rect class="b5" width="37" height="34"/><text transform="translate(18.5,0) scale(0.646,1)"><tspan x="0" y="7.7">Body Length &lt;= 74.5</tspan><tspan x="0" dy="6.1">entropy = 0.334</tspan><tspan x="0" dy="6.1">samples = 92</tspan><tspan x="0" dy="6.1">value = [5, 145]</tspan><tspan x="0" dy="6.1">class = Normal</tspan></text></g>
<g id="n121" transform="translate(433,530)"><rect class="b6" width="27" height="28"/><text transform="translate(13.5,0) scale(0.658,1)"><tspan x="0" y="7.7">entropy = 0.0</tspan><tspan x="0" dy="6.1">samples = 9</tspan><tspan x="0" dy="6.1">value = [0, 14]</tspan><tspan x="0" dy="6.1">class = Normal</tspan></text></g>
<g id="n122" transform="translate(484,530)"><rect class="o6" x="-24" width="48" height="28"/><text><tspan x="0" y="7.7">entropy = 0.402</tspan><tspan x="0" dy="6.1">samples = 30</tspan><tspan x="0" dy="6.1">value = [52, 4]</tspan><tspan x="0" dy="6.1">class = Stunting</tspan></text></g>
<g id="n123" transform="translate(518,530)"><rect class="b3" width="20" height="28"/><text transform="translate(10,0) scale(0.438,1)"><tspan x="0" y="7.7">entropy = 0.918</tspan><tspan x="0" dy="6.1">samples = 21</tspan><tspan x="0" dy="6.1">value = [12, 24]</tspan><tspan x="0" dy="6.1">class = Normal</tspan></text></g>
<g id="n124" transform="translate(538,527)"><rect class="b6" width="35" height="34"/><text transform="translate(17.5,0) scale(0.609,1)"><tspan x="0" y="7.7">Body Length &lt;= 83.5</tspan><tspan x="0" dy="6.1">entropy = 0.242</tspan><tspan x="0" dy="6.1">samples = 80</tspan><tspan x="0" dy="6.1">value = [6, 112]</tspan><tspan x="0" dy="6.1">class = Normal</tspan></text></g>
<g id="n125" transform="translate(573,530)"><rect class="o6" width="29" height="28"/><text transform="translate(14.5,0) scale(0.659,1)"><tspan x="0" y="7.7">entropy = 0.0</tspan><tspan x="0" dy="6.1">samples = 34</tspan><tspan x="0" dy="6.1">value = [52, 0]</tspan><tspan x="0" dy="6.1">class = Stunting</tspan></text></g>
<g id="n126" transform="translate(627,530)"><rect class="o1" x="-25" width="50" height="28"/><text><tspan x="0" y="7.7">entropy = 0.975</tspan><tspan x="0" dy="6.1">samples = 37</tspan><tspan x="0" dy="6.1">value = [36, 24]</tspan><tspan x="0" dy="6.1">class = Stunting</tspan></text></g>
<g id="n127" transform="translate(655,530)"><rect class="o6" width="28" height="28"/><text transform="translate(14,0) scale(0.634,1)"><tspan x="0" y="7.7">entropy = 0.0</tspan><tspan x="0" dy="6.1">samples = 19</tspan><tspan x="0" dy="6.1">value = [33, 0]</tspan><tspan x="0" dy="6.1">class = Stunting</tspan></text></g>
<g id="n128" transform="translate(683,527)"><rect class="o5" width="29" height="34"/><text transform="translate(14.5,0) scale(0.657,1)"><tspan x="0" y="7.7">Age &lt;= 31.5</tspan><tspan x="0" dy="6.1">entropy = 0.544</tspan><tspan x="0" dy="6.1">samples = 22</tspan><tspan x="0" dy="6.1">value = [28, 4]</tspan><tspan x="0" dy="6.1">class = Stunting</tspan></text></g>
<g id="n129" transform="translate(712,530)"><rect class="o6" width="33" height="28"/><text transform="translate(16.5,0) scale(0.756,1)"><tspan x="0" y="7.7">entropy = 0.0</tspan><tspan x="0" dy="6.1">samples = 37</tspan><tspan x="0" dy="6.1">value = [69, 0]</tspan><tspan x="0" dy="6.1">class = Stunting</tspan></text></g>
<g id="n130" transform="translate(745,530)"><rect class="o6" width="20" height="28"/><text transform="translate(10,0) scale(0.439,1)"><tspan x="0" y="7.7">entropy = 0.0</tspan><tspan x="0" dy="6.1">samples = 15</tspan><tspan x="0" dy="6.1">value = [23, 0]</tspan><tspan x="0" dy="6.1">class = Stunting</tspan></text></g>
<g id="n131" transform="translate(765,530)"><rect class="o0" width="27" height="28"/><text transform="translate(13.5,0) scale(0.608,1)"><tspan x="0" y="7.7">entropy = 0.997</tspan><tspan x="0" dy="6.1">samples = 21</tspan><tspan x="0" dy="6.1">value = [17, 15]</tspan><tspan x="0" dy="6.1">class = Stunting</tspan></text></g>
<g id="n132" transform="translate(819.5,527)"><rect class="o5" x="-27.5" width="55" height="34"/><text transform="scale(0.95,1)"><tspan x="0" y="7.7">Body Length &lt;= 88.0</tspan><tspan x="0" dy="6.1">entropy = 0.474</tspan><tspan x="0" dy="6.1">samples = 41</tspan><tspan x="0" dy="6.1">value = [62, 7]</tspan><tspan x="0" dy="6.1">class = Stunting</tspan></text></g>
<g id="n133" transform="translate(847,527)"><rect class="o6" width="33" height="34"/><text transform="translate(16.5,0) scale(0.574,1)"><tspan x="0" y="7.7">Birth Weight &lt;= 3.65</tspan><tspan x="0" dy="6.1">entropy = 0.222</tspan><tspan x="0" dy="6.1">samples = 66</tspan><tspan x="0" dy="6.1">value = [73, 2]</tspan><tspan x="0" dy="6.1">class = Stunting</tspan></text></g>
<g id="n134" transform="translate(906.5,530)"><rect class="o6" x="-26.5" width="53" height="28"/><text><tspan x="0" y="7.7">entropy = 0.738</tspan><tspan x="0" dy="6.1">samples = 21</tspan><tspan x="0" dy="6.1">value = [30, 8]</tspan><tspan x="0" dy="6.1">class = Stunting</tspan></text></g>
<g id="n135" transform="translate(390,577)"><rect class="b6" width="27" height="28"/><text transform="translate(13.5,0) scale(0.658,1)"><tspan x="0" y="7.7">entropy = 0.0</tspan><tspan x="0" dy="6.1">samples = 37</tspan><tspan x="0" dy="6.1">value = [0, 60]</tspan><tspan x="0" dy="6.1">class = Normal</tspan></text></g>
<g id="n136" transform="translate(441,574)"><rect class="b6" x="-24" width="48" height="34"/><text><tspan x="0" y="7.7">Age &lt;= 58.5</tspan><tspan x="0" dy="6.1">entropy = 0.21</tspan><tspan x="0" dy="6.1">samples = 55</tspan><tspan x="0" dy="6.1">value = [2, 57]</tspan><tspan x="0" dy="6.1">class = Normal</tspan></text></g>
<g id="n137" transform="translate(530,577)"><rect class="b6" width="30" height="28"/><text transform="translate(15,0) scale(0.737,1)"><tspan x="0" y="7.7">entropy = 0.0</tspan><tspan x="0" dy="6.1">samples = 30</tspan><tspan x="0" dy="6.1">value = [0, 45]</tspan><tspan x="0" dy="6.1">class = Normal</tspan></text></g>
<g id="n138" transform="translate(584,574)"><rect class="b6" x="-24" width="48" height="34"/><text><tspan x="0" y="7.7">Age &lt;= 49.5</tspan><tspan x="0" dy="6.1">entropy = 0.113</tspan><tspan x="0" dy="6.1">samples = 50</tspan><tspan x="0" dy="6.1">value = [1, 67]</tspan><tspan x="0" dy="6.1">class = Normal</tspan></text></g>
<g id="n139" transform="translate(670,577)"><rect class="o6" width="30" height="28"/><text transform="translate(15,0) scale(0.683,1)"><tspan x="0" y="7.7">entropy = 0.0</tspan><tspan x="0" dy="6.1">samples = 8</tspan><tspan x="0" dy="6.1">value = [13, 0]</tspan><tspan x="0" dy="6.1">class = Stunting</tspan></text></g>
<g id="n140" transform="translate(723.5,577)"><rect class="o6" x="-23.5" width="47" height="28"/><text><tspan x="0" y="7.7">entropy = 0.0</tspan><tspan x="0" dy="6.1">samples = 14</tspan><tspan x="0" dy="6.1">value = [15, 0]</tspan><tspan x="0" dy="6.1">class = Stunting</tspan></text></g>
<g id="n141" transform="translate(784,577)"><rect class="o6" width="30" height="28"/><text transform="translate(15,0) scale(0.683,1)"><tspan x="0" y="7.7">entropy = 0.0</tspan><tspan x="0" dy="6.1">samples = 20</tspan><tspan x="0" dy="6.1">value = [36, 0]</tspan><tspan x="0" dy="6.1">class = Stunting</tspan></text></g>
<g id="n142" transform="translate(814,577)"><rect class="o6" width="29" height="28"/><text transform="translate(14.5,0) scale(0.657,1)"><tspan x="0" y="7.7">entropy = 0.592</tspan><tspan x="0" dy="6.1">samples = 21</tspan><tspan x="0" dy="6.1">value = [26, 7]</tspan><tspan x="0" dy="6.1">class = Stunting</tspan></text></g>
<g id="n143" transform="translate(843,577)"><rect class="o6" width="27" height="28"/><text transform="translate(13.5,0) scale(0.61,1)"><tspan x="0" y="7.7">entropy = 0.0</tspan><tspan x="0" dy="6.1">samples = 45</tspan><tspan x="0" dy="6.1">value = [66, 0]</tspan><tspan x="0" dy="6.1">class = Stunting</tspan></text></g>
<g id="n144" transform="translate(894,577)"><rect class="o6" x="-24" width="48" height="28"/><text><tspan x="0" y="7.7">entropy = 0.176</tspan><tspan x="0" dy="6.1">samples = 21</tspan><tspan x="0" dy="6.1">value = [37, 1]</tspan><tspan x="0" dy="6.1">class = Stunting</tspan></text></g>
<g id="n145" transform="translate(405,624)"><rect class="b6" width="27" height="28"/><text transform="translate(13.5,0) scale(0.658,1)"><tspan x="0" y="7.7">entropy = 0.0</tspan><tspan x="0" dy="6.1">samples = 14</tspan><tspan x="0" dy="6.1">value = [0, 22]</tspan><tspan x="0" dy="6.1">class = Normal</tspan></text></g>
<g id="n146" transform="translate(456,624)"><rect class="b6" x="-24" width="48" height="28"/><text><tspan x="0" y="7.7">entropy = 0.216</tspan><tspan x="0" dy="6.1">samples = 41</tspan><tspan x="0" dy="6.1">value = [1, 35]</tspan><tspan x="0" dy="6.1">class = Normal</tspan></text></g>
<g id="n147" transform="translate(548,624)"><rect class="b6" width="27" height="28"/><text transform="translate(13.5,0) scale(0.658,1)"><tspan x="0" y="7.7">entropy = 0.0</tspan><tspan x="0" dy="6.1">samples = 10</tspan><tspan x="0" dy="6.1">value = [0, 25]</tspan><tspan x="0" dy="6.1">class = Normal</tspan></text></g>
<g id="n148" transform="translate(599,624)"><rect class="b6" x="-24" width="48" height="28"/><text><tspan x="0" y="7.7">entropy = 0.150</tspan><tspan x="0" dy="6.1">samples = 40</tspan><tspan x="0" dy="6.1">value = [1, 42]</tspan><tspan x="0" dy="6.1">class = Normal</tspan></text></g>
</g>
</svg>
